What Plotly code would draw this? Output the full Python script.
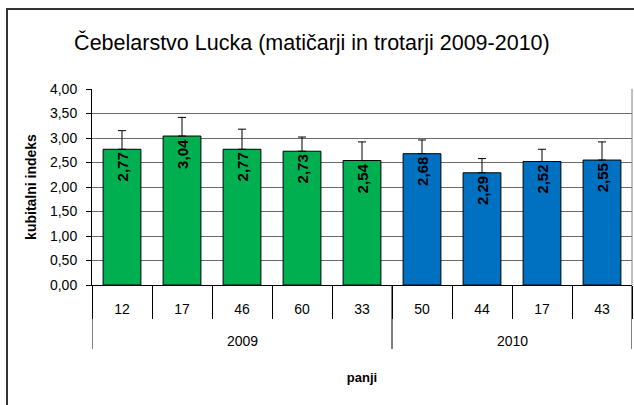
import plotly.graph_objects as go

years = ["2009", "2010"]
year_counts = [5, 4]
panji = ["12", "17", "46", "60", "33", "50", "44", "17", "43"]
values = [2.77, 3.04, 2.77, 2.73, 2.54, 2.68, 2.29, 2.52, 2.55]
errors = [0.38, 0.38, 0.41, 0.29, 0.38, 0.28, 0.29, 0.25, 0.37]
year_colors = ["#00B050", "#0070C0"]

FONT = "Arial, Liberation Sans, sans-serif"

pos = list(range(len(panji)))
colors = []
for c, n in zip(year_colors, year_counts):
    colors += [c] * n
labels = [f"{v:.2f}".replace(".", ",") for v in values]

fig = go.Figure(go.Bar(
    x=pos,
    y=values,
    width=0.63,
    marker=dict(color=colors, line=dict(color="black", width=1)),
    text=labels,
    textposition="inside",
    insidetextanchor="end",
    textangle=-90,
    constraintext="none",
    textfont=dict(family=FONT, size=15, color="black", weight="bold"),
    error_y=dict(type="data", array=errors, arrayminus=[0] * len(errors),
                 symmetric=False, color="black", thickness=1, width=4),
))

# year group labels and dividers (axis decoration)
annotations = []
shapes = []
start = 0
bounds = [-0.5]
for y, n in zip(years, year_counts):
    center = start + (n - 1) / 2
    annotations.append(dict(x=center, xref="x", y=(285 - 341) / 196, yref="paper",
                            text=y, showarrow=False, xanchor="center", yanchor="middle",
                            font=dict(family=FONT, size=14, color="black")))
    start += n
    bounds.append(start - 0.5)
for b in bounds:
    shapes.append(dict(type="line", xref="x", yref="paper", x0=b, x1=b,
                       y0=0, y1=(285 - 349) / 196, line=dict(color="black", width=1)))

# outer chart frame and right plot border
shapes.append(dict(type="rect", xref="paper", yref="paper",
                   x0=(7 - 92) / 540, x1=(645 - 92) / 540,
                   y0=(285 - 420) / 196, y1=(285 - 9) / 196,
                   line=dict(color="#333333", width=2), layer="below"))
shapes.append(dict(type="line", xref="paper", yref="paper", x0=1, x1=1, y0=0, y1=1,
                   line=dict(color="#808080", width=1)))

fig.update_layout(
    width=634, height=405,
    margin=dict(l=92, r=2, t=89, b=120),
    paper_bgcolor="white", plot_bgcolor="white",
    separators=",.",
    showlegend=False,
    font=dict(family=FONT, color="black"),
    title=dict(text="Čebelarstvo Lucka (matičarji in trotarji 2009-2010)",
               x=0.492, xanchor="center", y=1 - 42 / 405, yanchor="middle",
               font=dict(family=FONT, size=21.5, color="black")),
    annotations=annotations,
    shapes=shapes,
)

fig.update_yaxes(
    range=[0, 4], dtick=0.5, tickformat=".2f",
    showgrid=True, gridcolor="#6a6a6a", gridwidth=1,
    showline=True, linecolor="black", linewidth=1,
    ticks="outside", ticklen=5, tickcolor="black",
    ticklabelstandoff=6,
    tickfont=dict(family=FONT, size=14, color="black"),
    automargin=False,
    title=dict(text="kubitalni indeks", standoff=10,
               font=dict(family=FONT, size=14, color="black", weight="bold")),
)

fig.update_xaxes(
    range=[-0.5, len(panji) - 0.5],
    tickmode="array", tickvals=pos, ticktext=panji,
    showline=True, linecolor="black", linewidth=1,
    ticks="", ticklabelstandoff=11,
    minor=dict(tick0=-0.5, dtick=1, ticks="outside", ticklen=33, tickcolor="black", showgrid=False),
    showgrid=False, zeroline=False,
    tickfont=dict(family=FONT, size=14, color="black"),
    automargin=False,
    title=dict(text="panji", standoff=57,
               font=dict(family=FONT, size=13, color="black", weight="bold")),
)

fig.write_html("out.html", config={"displayModeBar": False},
               post_script="document.body.style.margin='0';")
